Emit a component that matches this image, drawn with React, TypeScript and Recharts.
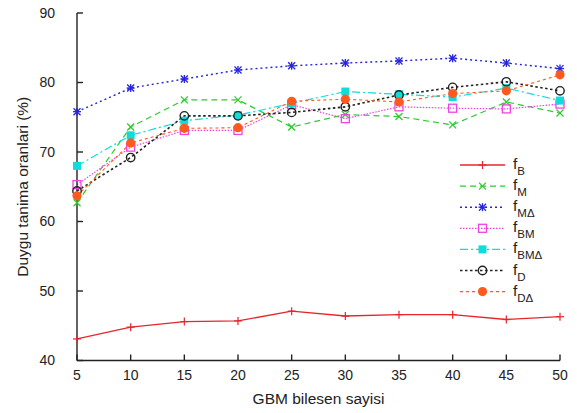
import React from 'react';
import { LineChart, Line, XAxis, YAxis, Legend } from 'recharts';

const components = [5, 10, 15, 20, 25, 30, 35, 40, 45, 50];
const xTicks = [5, 10, 15, 20, 25, 30, 35, 40, 45, 50];
const yTicks = [40, 50, 60, 70, 80, 90];

const fB = [43.1, 44.8, 45.6, 45.7, 47.1, 46.4, 46.6, 46.6, 45.9, 46.3];
const fM = [62.7, 73.6, 77.5, 77.5, 73.6, 75.4, 75.1, 73.9, 77.2, 75.6];
const fMD = [75.8, 79.2, 80.5, 81.8, 82.4, 82.8, 83.1, 83.5, 82.8, 82.0];
const fBM = [65.3, 70.7, 73.1, 73.1, 76.8, 74.8, 76.5, 76.3, 76.2, 76.9];
const fBMD = [68.0, 72.4, 74.5, 75.3, 77.0, 78.7, 78.3, 77.9, 79.2, 77.4];
const fD = [64.4, 69.2, 75.2, 75.2, 75.7, 76.5, 78.2, 79.3, 80.1, 78.8];
const fDD = [63.7, 71.3, 73.4, 73.5, 77.3, 77.6, 77.2, 78.4, 78.8, 81.1];

type MarkerType = 'plus' | 'cross' | 'star' | 'square' | 'fsquare' | 'circle' | 'fcircle';

interface SeriesDef {
  key: string;
  sub: string;
  values: number[];
  color: string;
  dash?: string;
  width: number;
  marker: MarkerType;
}

const SERIES: SeriesDef[] = [
  { key: 'fB', sub: 'B', values: fB, color: '#e6262b', width: 1.3, marker: 'plus' },
  { key: 'fM', sub: 'M', values: fM, color: '#2ecc2e', dash: '6 4', width: 1.2, marker: 'cross' },
  { key: 'fMD', sub: 'M\u0394', values: fMD, color: '#2424dc', dash: '2 3', width: 1.4, marker: 'star' },
  { key: 'fBM', sub: 'BM', values: fBM, color: '#ee44e0', dash: '1.5 1.5', width: 1.2, marker: 'square' },
  { key: 'fBMD', sub: 'BM\u0394', values: fBMD, color: '#10dcdc', dash: '8 3 2 3', width: 1.2, marker: 'fsquare' },
  { key: 'fD', sub: 'D', values: fD, color: '#222222', dash: '2.5 2.5', width: 1.6, marker: 'circle' },
  { key: 'fDD', sub: 'D\u0394', values: fDD, color: '#ff5a1e', dash: '3 3', width: 1.1, marker: 'fcircle' },
];

const data = components.map((c, i) => {
  const row: Record<string, number> = { n: c };
  SERIES.forEach((s) => {
    row[s.key] = s.values[i];
  });
  return row;
});

const FONT = '"Liberation Sans", Arial, Helvetica, sans-serif';
const TEXT = '#222';

function Marker({ type, cx, cy, color }: { type: MarkerType; cx: number; cy: number; color: string }) {
  const s = 4;
  const d = 3.5;
  switch (type) {
    case 'plus':
      return (
        <g stroke={color} strokeWidth={1.2}>
          <line x1={cx - s} x2={cx + s} y1={cy} y2={cy} />
          <line x1={cx} x2={cx} y1={cy - s} y2={cy + s} />
        </g>
      );
    case 'cross':
      return (
        <g stroke={color} strokeWidth={1.3}>
          <line x1={cx - d} x2={cx + d} y1={cy - d} y2={cy + d} />
          <line x1={cx - d} x2={cx + d} y1={cy + d} y2={cy - d} />
        </g>
      );
    case 'star':
      return (
        <g stroke={color} strokeWidth={1.3}>
          <line x1={cx - s} x2={cx + s} y1={cy} y2={cy} />
          <line x1={cx} x2={cx} y1={cy - s} y2={cy + s} />
          <line x1={cx - d} x2={cx + d} y1={cy - d} y2={cy + d} />
          <line x1={cx - d} x2={cx + d} y1={cy + d} y2={cy - d} />
        </g>
      );
    case 'square':
      return <rect x={cx - 4} y={cy - 4} width={8} height={8} fill="none" stroke={color} strokeWidth={1.3} />;
    case 'fsquare':
      return <rect x={cx - 4} y={cy - 4} width={8} height={8} fill={color} stroke="none" />;
    case 'circle':
      return <circle cx={cx} cy={cy} r={4.2} fill="none" stroke={color} strokeWidth={1.4} />;
    case 'fcircle':
      return <circle cx={cx} cy={cy} r={4.6} fill={color} stroke="none" />;
    default:
      return null;
  }
}

const makeDot = (s: SeriesDef) => (props: any) => {
  const { cx, cy, index } = props;
  if (cx == null || cy == null) return <g key={`${s.key}-${index}`} />;
  return (
    <g key={`${s.key}-${index}`}>
      <Marker type={s.marker} cx={cx} cy={cy} color={s.color} />
    </g>
  );
};

const renderLegend = () => (
  <svg width={125} height={150} style={{ display: 'block', overflow: 'visible' }}>
    {SERIES.map((s, i) => {
      const y = 10 + i * 21.1;
      return (
        <g key={s.key}>
          <line x1={5} x2={50} y1={y} y2={y} stroke={s.color} strokeDasharray={s.dash} strokeWidth={s.width} />
          <Marker type={s.marker} cx={27.5} cy={y} color={s.color} />
          <text x={58} y={y + 4} fontSize={15.5} fill={TEXT} fontFamily={FONT}>
            f
            <tspan fontSize={11.5} dy={6}>
              {s.sub}
            </tspan>
          </text>
        </g>
      );
    })}
  </svg>
);

const YLabel = (props: any) => {
  const vb = props.viewBox || {};
  const x = (vb.x ?? 0) + 6;
  const y = (vb.y ?? 0) + (vb.height ?? 0) / 2;
  return (
    <text
      x={x}
      y={y}
      dy="0.35em"
      transform={`rotate(-90, ${x}, ${y})`}
      textAnchor="middle"
      fontSize={15.5}
      fill={TEXT}
      fontFamily={FONT}
    >
      Duygu tanima oranlari (%)
    </text>
  );
};

const axisStroke = { stroke: '#222', strokeWidth: 1.4 };

export default function App() {
  return (
    <div style={{ position: 'absolute', left: 0, top: 0, width: 577, height: 413, background: '#fff' }}>
      <LineChart
        width={577}
        height={413}
        data={data}
        margin={{ top: 13, right: 17, bottom: 0, left: 17 }}
        style={{ fontFamily: FONT }}
      >
        <XAxis
          dataKey="n"
          type="number"
          domain={[5, 50]}
          ticks={xTicks}
          height={52.5}
          tickSize={-6}
          tickMargin={16}
          axisLine={axisStroke}
          tickLine={axisStroke}
          tick={{ fontSize: 14, fill: TEXT, fontFamily: FONT }}
          label={{ value: 'GBM bilesen sayisi', position: 'insideBottom', offset: 9.5, fontSize: 15.5, fill: TEXT, fontFamily: FONT }}
        />
        <XAxis
          xAxisId="top"
          orientation="top"
          dataKey="n"
          type="number"
          domain={[5, 50]}
          ticks={xTicks}
          height={0}
          tickSize={-6}
          axisLine={axisStroke}
          tickLine={axisStroke}
          tick={false}
        />
        <YAxis
          type="number"
          domain={[40, 90]}
          ticks={yTicks}
          width={60}
          tickSize={-6}
          tickMargin={28}
          axisLine={axisStroke}
          tickLine={axisStroke}
          tick={{ fontSize: 14, fill: TEXT, fontFamily: FONT }}
          label={{ content: YLabel }}
        />
        <YAxis
          yAxisId="right"
          orientation="right"
          type="number"
          domain={[40, 90]}
          ticks={yTicks}
          width={0}
          tickSize={-6}
          axisLine={axisStroke}
          tickLine={axisStroke}
          tick={false}
        />
        {SERIES.map((s) => (
          <Line
            key={s.key}
            dataKey={s.key}
            type="linear"
            stroke={s.color}
            strokeWidth={s.width}
            strokeDasharray={s.dash}
            dot={makeDot(s)}
            activeDot={false}
            isAnimationActive={false}
          />
        ))}
        <Legend
          layout="horizontal"
          verticalAlign="middle"
          align="center"
          content={renderLegend}
          wrapperStyle={{ position: 'absolute', left: 455, top: 155, width: 125, height: 150 }}
        />
      </LineChart>
    </div>
  );
}
